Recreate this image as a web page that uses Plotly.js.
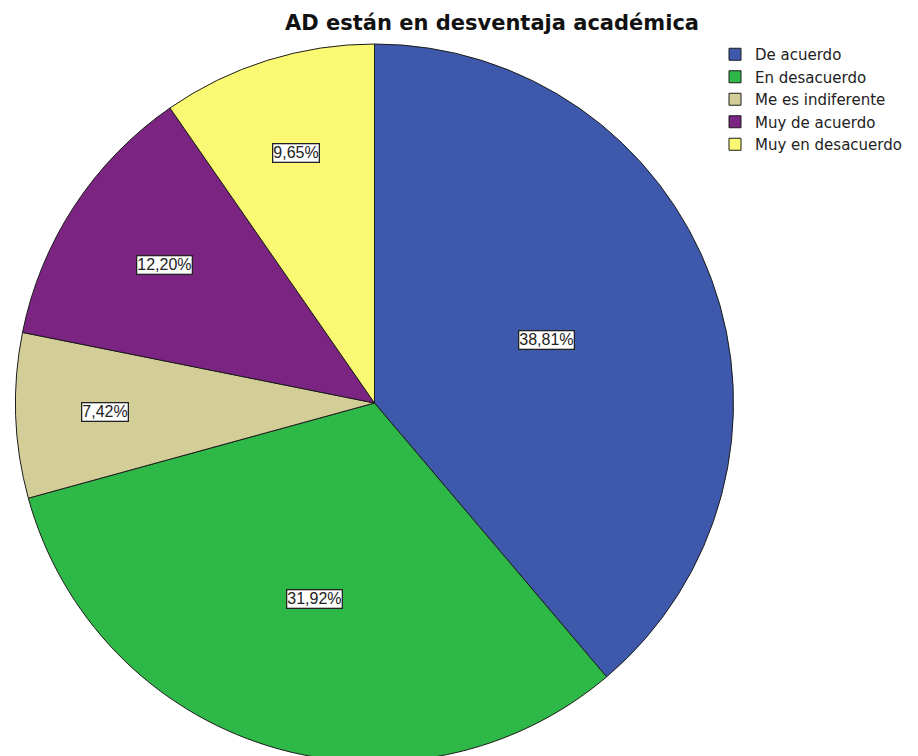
<!DOCTYPE html>
<html>
<head>
<meta charset="utf-8">
<script src="https://cdn.plot.ly/plotly-3.0.1.min.js"></script>
<style>
  html, body { margin: 0; padding: 0; overflow: hidden; background: #fff; }
  #chart { width: 918px; height: 762px; }
</style>
</head>
<body>
<div id="chart"></div>
<script>
// ---- Data ----
const categories = ["De acuerdo", "En desacuerdo", "Me es indiferente", "Muy de acuerdo", "Muy en desacuerdo"];
const percents = [38.81, 31.92, 7.42, 12.20, 9.65];
const chartTitle = "AD están en desventaja académica";

// ---- Style ----
const colors = ["#3E58AC", "#2EB848", "#D3CE97", "#7B2481", "#FBF873"];
const labelRadius = [0.51, 0.57, 0.75, 0.70, 0.73]; // radial placement of boxed labels
const W = 918, H = 762;
const domX = [14 / W, 735 / W];
const domY = [0, 1 - 44 / H];

// Boxed percentage labels placed from the data (slice mid-angles)
const total = percents.reduce((a, b) => a + b, 0);
const cxPx = (domX[0] + domX[1]) / 2 * W;
const cyPx = (domY[0] + domY[1]) / 2 * H;
const Rpx = Math.min((domX[1] - domX[0]) * W, (domY[1] - domY[0]) * H) / 2;
let cum = 0;
const annotations = percents.map((p, i) => {
  const mid = (cum + p / 2) / total * 2 * Math.PI;
  cum += p;
  const r = labelRadius[i] * Rpx;
  const x = cxPx + r * Math.sin(mid);
  const y = cyPx + r * Math.cos(mid);
  return {
    xref: "paper", yref: "paper",
    x: x / W, y: y / H,
    xanchor: "center", yanchor: "middle",
    text: p.toFixed(2).replace(".", ",") + "%",
    showarrow: false,
    font: { family: "Liberation Sans, Arial, sans-serif", size: 16, color: "#222" },
    bgcolor: "#ffffff",
    bordercolor: "#222222",
    borderwidth: 1.3,
    borderpad: 0
  };
});

const trace = {
  type: "pie",
  labels: categories,
  values: percents,
  sort: false,
  direction: "clockwise",
  rotation: 0,
  textinfo: "none",
  marker: { colors: colors, line: { color: "#1c1c1c", width: 1 } },
  domain: { x: domX, y: domY },
  hoverinfo: "label+percent"
};

const layout = {
  width: W,
  height: H,
  margin: { l: 0, r: 0, t: 0, b: 0 },
  paper_bgcolor: "#ffffff",
  plot_bgcolor: "#ffffff",
  title: {
    text: chartTitle,
    x: 492 / W,
    xanchor: "center",
    y: 1 - 23 / H,
    yanchor: "middle",
    font: { family: "DejaVu Sans, sans-serif", size: 21, color: "#111", weight: "bold" }
  },
  showlegend: true,
  legend: {
    x: 715 / W,
    xanchor: "left",
    y: 1 - 38 / H,
    yanchor: "top",
    bgcolor: "rgba(0,0,0,0)",
    borderwidth: 0,
    font: { family: "DejaVu Sans, sans-serif", size: 15, color: "#222" },
    traceorder: "normal"
  },
  annotations: annotations
};

Plotly.newPlot("chart", [trace], layout, { displayModeBar: false, staticPlot: true });
</script>
</body>
</html>
